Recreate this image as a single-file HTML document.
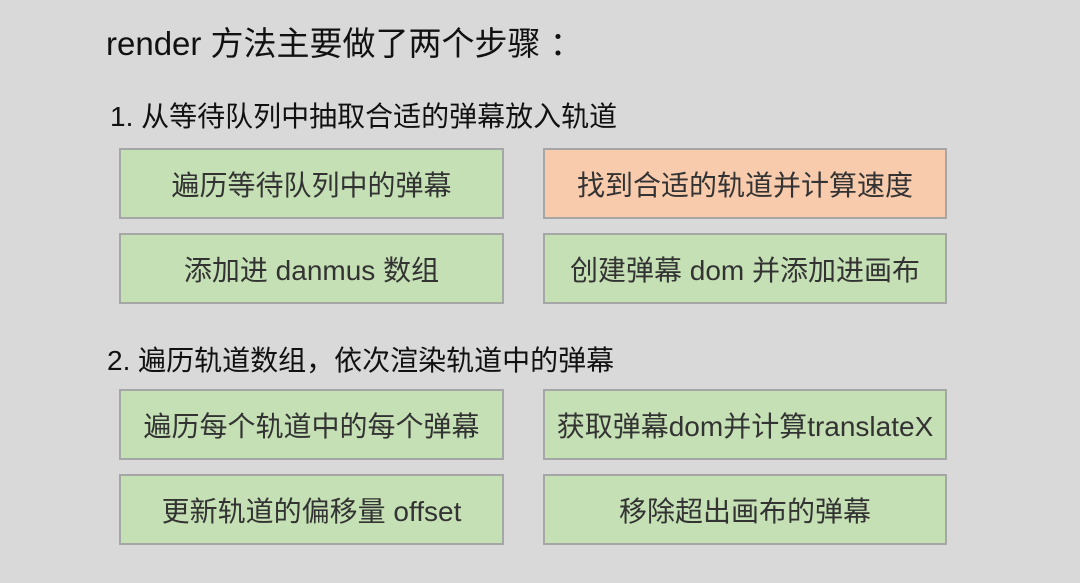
<!DOCTYPE html>
<html><head><meta charset="utf-8"><style>
body{margin:0;width:1080px;height:583px;background:#d9d9d9;position:relative;overflow:hidden;font-family:"Liberation Sans","Noto Sans CJK SC",sans-serif;color:#111}
.t{position:absolute;white-space:nowrap}
.b{position:absolute;box-sizing:border-box;border:2px solid #a6a6a6;background:#c5e0b4;display:flex;align-items:center;justify-content:center;font-size:28px;color:#333;white-space:nowrap}
.o{background:#f8cbad}
</style></head><body>
<div class="t" style="left:106px;top:17px;font-size:33px">render 方法主要做了两个步骤&nbsp;：</div>
<div class="t" style="left:110px;top:95px;font-size:28px">1. 从等待队列中抽取合适的弹幕放入轨道</div>
<div class="b" style="left:119px;top:148px;width:385px;height:71px">遍历等待队列中的弹幕</div>
<div class="b o" style="left:543px;top:148px;width:404px;height:71px">找到合适的轨道并计算速度</div>
<div class="b" style="left:119px;top:233px;width:385px;height:71px">添加进 danmus 数组</div>
<div class="b" style="left:543px;top:233px;width:404px;height:71px">创建弹幕 dom 并添加进画布</div>
<div class="t" style="left:107px;top:339px;font-size:28px">2. 遍历轨道数组，依次渲染轨道中的弹幕</div>
<div class="b" style="left:119px;top:389px;width:385px;height:71px">遍历每个轨道中的每个弹幕</div>
<div class="b" style="left:543px;top:389px;width:404px;height:71px">获取弹幕dom并计算translateX</div>
<div class="b" style="left:119px;top:474px;width:385px;height:71px">更新轨道的偏移量 offset</div>
<div class="b" style="left:543px;top:474px;width:404px;height:71px">移除超出画布的弹幕</div>
</body></html>
